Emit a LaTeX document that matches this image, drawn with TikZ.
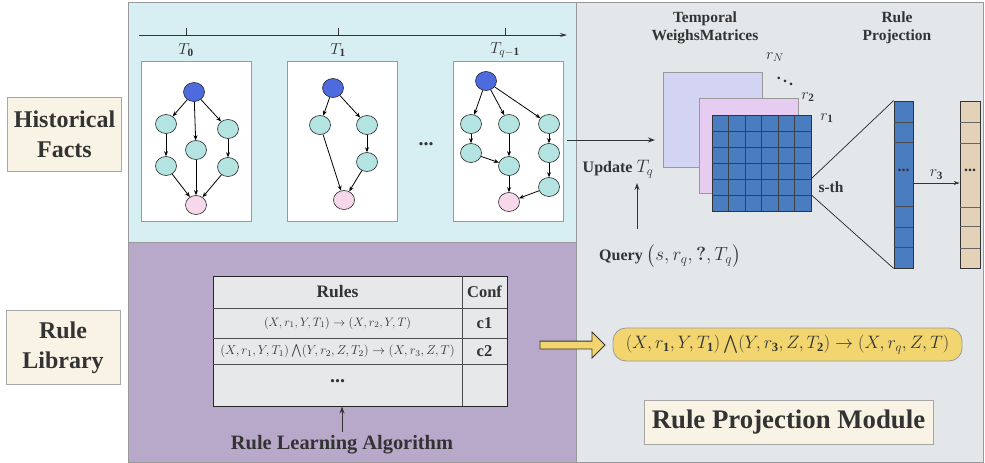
\RequirePackage{fix-cm}
\documentclass[tikz,border=0pt]{standalone}
\usepackage{amsmath}
\usepackage{amssymb}
\usepackage{fontspec}
\setmainfont{Liberation Serif}
\usetikzlibrary{arrows.meta, shapes, positioning, calc}

\definecolor{factbg}{HTML}{D7EFF3}
\definecolor{rulebg}{HTML}{B8A9CB}
\definecolor{projbg}{HTML}{E4E7E9}
\definecolor{labelbg}{HTML}{F8F3E5}
\definecolor{headblue}{HTML}{4D6BDD}
\definecolor{midcyan}{HTML}{B3E4E1}
\definecolor{tailpink}{HTML}{F6D8EA}
\definecolor{matlav}{HTML}{D3D3F4}
\definecolor{matpink}{HTML}{E6CCF0}
\definecolor{matblue}{HTML}{4A7DC0}
\definecolor{vectan}{HTML}{E3D2B7}
\definecolor{ruleyel}{HTML}{F3D570}
\definecolor{tablebg}{HTML}{E6E8EA}
\definecolor{inkgray}{HTML}{333333}

\begin{document}
\begin{tikzpicture}[
  x=1pt, y=-1pt,
  % --- styles ------------------------------------------------------------
  panel/.style={draw=gray!80, line width=0.8pt},
  sidelabel/.style={
    rectangle, draw=gray!70, line width=0.8pt, fill=labelbg,
    minimum width=114, minimum height=74, inner sep=0pt,
    font=\fontsize{24}{30}\selectfont\bfseries, text=inkgray, align=center
  },
  graphbox/.style={rectangle, draw=gray!80, fill=white, minimum width=110, minimum height=160},
  ent/.style={ellipse, draw=black!85, line width=0.6pt, minimum width=21, minimum height=19, inner sep=0pt},
  headent/.style={ent, fill=headblue},
  mident/.style={ent, fill=midcyan},
  tailent/.style={ent, fill=tailpink},
  link/.style={-{Stealth[length=5pt,width=4pt]}, line width=0.8pt},
  flow/.style={-{Stealth[length=7pt,width=5pt]}, line width=1pt, inkgray},
  mathlbl/.style={font=\fontsize{16}{18}\selectfont, text=inkgray},
  boldlbl/.style={font=\fontsize{15.5}{18}\selectfont\bfseries, text=inkgray, align=center},
  cellbold/.style={font=\fontsize{16.5}{18}\selectfont\bfseries, text=inkgray},
  mat/.style={rectangle, draw=gray!80, minimum width=99, minimum height=95, inner sep=0pt},
  vec/.style={rectangle, draw=black!80, line width=0.8pt, minimum width=19, minimum height=167, inner sep=0pt}
]
\useasboundingbox (0,0) rectangle (985,463);

% --------------------- panels -------------------------------------------
\fill[white] (0,0) rectangle (985,463);
\filldraw[panel, fill=factbg] (128,2) rectangle (576,242);
\filldraw[panel, fill=rulebg] (128,242) rectangle (576,462);
\filldraw[panel, fill=projbg] (576,2) rectangle (983,462);

\node[sidelabel] (facts) at (64.5,134) {Historical\\Facts};
\node[sidelabel] (library) at (63,347.5) {Rule\\Library};

% --------------------- time line ----------------------------------------
\coordinate (tstart) at (139,35);
\coordinate (tend) at (567,35);
\draw[-{Stealth[length=7pt,width=4pt]}, line width=1pt, inkgray] (tstart) -- (tend);
\foreach \x/\lbl in {186/T_{\mathbf 0}, 338/T_{\mathbf 1}, 505/T_{q-\mathbf 1}} {
  \draw[line width=1pt, inkgray] (\x,28) -- (\x,35);
  \node[mathlbl] at (\x,50) {$\lbl$};
}

% --------------------- graph boxes --------------------------------------
\node[graphbox] (gbox1) at (196,141) {};
\node[graphbox] (gbox2) at (342,141) {};
\node[graphbox] (gbox3) at (508.5,141) {};
\node[font=\fontsize{20}{20}\selectfont\bfseries, text=inkgray] (gdots) at (426,144) {...};

% graph at T_0
\node[headent] (a0) at (194,92) {};
\node[mident] (a1) at (166,124) {};
\node[mident] (a2) at (196,150) {};
\node[mident] (a3) at (228,129) {};
\node[mident] (a4) at (166,166) {};
\node[mident] (a5) at (228,167) {};
\node[tailent] (a6) at (196,205) {};
\foreach \s/\t in {a0/a1,a0/a2,a0/a3,a1/a4,a3/a5,a4/a6,a2/a6,a5/a6}
  \draw[link] (\s) -- (\t);

% graph at T_1
\node[headent] (b0) at (333,88) {};
\node[mident] (b1) at (320,125) {};
\node[mident] (b2) at (367,125) {};
\node[mident] (b3) at (367,162) {};
\node[tailent] (b4) at (344,200) {};
\foreach \s/\t in {b0/b1,b0/b2,b2/b3,b1/b4,b3/b4}
  \draw[link] (\s) -- (\t);

% graph at T_{q-1}
\node[headent] (c0) at (486,81) {};
\node[mident] (c1) at (471,124) {};
\node[mident] (c2) at (509,124) {};
\node[mident] (c3) at (549,124) {};
\node[mident] (c4) at (471,153) {};
\node[mident] (c5) at (549,153) {};
\node[mident] (c6) at (509,166) {};
\node[mident] (c7) at (549,187) {};
\node[tailent] (c8) at (509,202) {};
\foreach \s/\t in {c0/c1,c0/c2,c0/c3,c1/c4,c4/c6,c2/c6,c3/c5,c5/c7,c6/c8,c7/c8}
  \draw[link] (\s) -- (\t);

% --------------------- weight matrices ----------------------------------
\node[boldlbl] (mattitle) at (705,28) {Temporal\\WeighsMatrices};
\node[mat, fill=matlav] (matback) at (712.5,119.5) {};
\node[mat, fill=matpink] (matmid) at (748.5,145.5) {};
\node[mat, fill=matblue, draw=black!80, minimum height=96] (matfront) at (761.5,163) {};
\foreach \i in {1,...,5} {
  \draw[black!75, line width=0.6pt] ($(matfront.north west)+(16.5*\i,0)$) -- ($(matfront.south west)+(16.5*\i,0)$);
  \draw[black!75, line width=0.6pt] ($(matfront.north west)+(0,16*\i)$) -- ($(matfront.north east)+(0,16*\i)$);
}
\node[mathlbl] (rN) at (775,57) {$r_N$};
\node[font=\fontsize{16}{16}\selectfont\bfseries, text=inkgray] (rdots) at (785,78) {$\boldsymbol\ddots$};
\node[mathlbl] (r2) at (808,97) {$r_{\mathbf 2}$};
\node[mathlbl] (r1) at (827,118) {$r_{\mathbf 1}$};
\node[boldlbl] (sth) at (831,187) {s-th};

% input arrow from the history panel
\coordinate (histout) at (567,140);
\coordinate (matin) at (655,140);
\draw[flow] (histout) -- (matin);

\node[boldlbl, font=\fontsize{16}{18}\selectfont\bfseries] (update) at (618,169) {Update {\fontsize{18}{18}\selectfont$T_q$}};
\node[boldlbl, font=\fontsize{16}{18}\selectfont\bfseries] (query) at (670,256) {Query {\fontsize{19}{20}\selectfont$\big(s, r_q, \boldsymbol{?}, T_q\big)$}};
\coordinate (qarrow) at (637,229);
\draw[flow] (qarrow) -- (637,183);

% --------------------- rule projection ----------------------------------
\node[boldlbl] (projtitle) at (897,28) {Rule\\Projection};
\node[vec, fill=matblue] (vecblue) at (903.5,184.5) {};
\node[vec, fill=vectan, minimum width=20] (vectan) at (970,184.5) {};
\foreach \y in {122,142,206,227,247}
  \draw[black!70, line width=0.6pt] (894,\y) -- (913,\y);
\foreach \y in {122,143,207,226,248}
  \draw[black!60, line width=0.6pt] (960,\y) -- (980,\y);
\node[font=\fontsize{16}{16}\selectfont\bfseries, text=inkgray, inner sep=0pt] at (903.5,170) {...};
\node[font=\fontsize{16}{16}\selectfont\bfseries, text=inkgray, inner sep=0pt] at (970,170) {...};

\draw[black!85, line width=0.7pt] ($(matfront.north east)+(0,64)$) -- (vecblue.north west);
\draw[black!85, line width=0.7pt] ($(matfront.north east)+(0,80)$) -- (vecblue.south west);
\draw[-{Stealth[length=6pt,width=4pt]}, line width=0.7pt, inkgray] (vecblue.east |- 0,183) -- node[mathlbl, above] {$r_{\mathbf 3}$} (vectan.west |- 0,183);

% --------------------- rule table ---------------------------------------
\node[rectangle, draw=black!85, line width=1pt, fill=tablebg, minimum width=294, minimum height=130, inner sep=0pt] (ruletab) at (360,341) {};
\draw[black!70, line width=0.8pt] (462,276) -- (462,406);
\foreach \y in {308,338,364}
  \draw[black!70, line width=0.8pt] (213,\y) -- (507,\y);
\node[cellbold, font=\fontsize{17.5}{18}\selectfont\bfseries] at (337.5,292) {Rules};
\node[cellbold] at (484.5,292) {Conf};
\node[font=\fontsize{12.2}{14}\selectfont, text=inkgray] at (337.5,323) {$(X,r_1,Y,T_1)\rightarrow(X,r_2,Y,T)$};
\node[cellbold] at (484.5,323) {c1};
\node[font=\fontsize{12.8}{14}\selectfont, text=inkgray] at (337.5,351) {$(X,r_1,Y,T_1)\textstyle\bigwedge(Y,r_2,Z,T_2)\rightarrow(X,r_3,Z,T)$};
\node[cellbold] at (484.5,351) {c2};
\node[font=\fontsize{20}{20}\selectfont\bfseries, text=inkgray] at (337.5,381) {...};

\node[font=\fontsize{20.4}{22}\selectfont\bfseries, text=inkgray] (learnalg) at (342,445) {Rule Learning Algorithm};
\draw[flow] (learnalg.north) -- (learnalg.north |- ruletab.south);

% --------------------- projected rule -----------------------------------
\node[single arrow, draw=black!80, line width=0.8pt, fill=ruleyel, inner sep=3.5pt,
      minimum height=65, single arrow head extend=9pt, single arrow head indent=0pt] (hollowarr) at (570.5,345) {};
\node[rectangle, rounded corners=13pt, draw=gray!80, line width=0.8pt, fill=ruleyel,
      minimum width=349, minimum height=33, font=\fontsize{18}{20}\selectfont, text=inkgray] (projrule) at (787.5,344.5)
      {$(X,r_{\mathbf 1},Y,T_{\mathbf 1})\textstyle\bigwedge(Y,r_{\mathbf 3},Z,T_{\mathbf 2})\rightarrow(X,r_q,Z,T)$};

\node[sidelabel, minimum width=289, minimum height=44, font=\fontsize{26.8}{28}\selectfont\bfseries] (module) at (788.5,422) {Rule Projection Module};

\end{tikzpicture}
\end{document}
